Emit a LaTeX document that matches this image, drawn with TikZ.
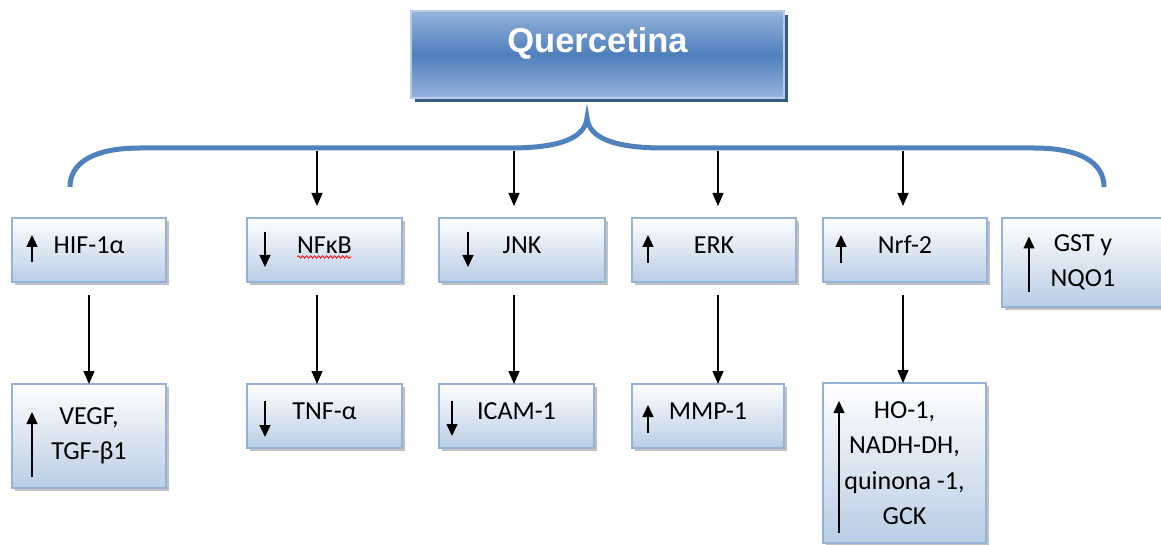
\documentclass[tikz,border=0pt]{standalone}
\usepackage{fontspec}
\setmainfont{Carlito}
\newfontfamily\titlefont{Liberation Sans}
\usepackage{tikz}
\usetikzlibrary{positioning, arrows.meta, shadows, decorations.pathmorphing}

\definecolor{braceblue}{HTML}{4F81BD}
\definecolor{boxline}{HTML}{95B3D7}
\definecolor{boxbottom}{HTML}{B9CDE5}
\definecolor{qlight}{HTML}{95B4DC}
\definecolor{qdark}{HTML}{4F7FBC}
\definecolor{qshadow}{HTML}{385A84}

\begin{document}
\begin{tikzpicture}[
    x=1pt, y=-1pt,
    box/.style={rectangle, draw=boxline, line width=1.3pt, top color=white, bottom color=boxbottom, minimum height=64pt, inner sep=0pt, outer sep=0pt, align=center, font=\fontsize{26}{35.5}\selectfont, drop shadow={shadow xshift=3pt, shadow yshift=-3pt, fill=black!40, opacity=.6}},
    oneline/.style={text height=18pt, text depth=11pt},
    qbox/.style={rectangle, draw=qlight!70!white, line width=1.3pt, top color=qlight, bottom color=qlight, middle color=qdark, minimum width=373pt, minimum height=87pt, outer sep=0pt, text=white, font=\titlefont\bfseries\fontsize{34.5}{40}\selectfont, text height=25pt, text depth=28pt, drop shadow={shadow xshift=4pt, shadow yshift=-4pt, fill=qshadow, opacity=1}},
    arrow/.style={-{Triangle[length=13pt,width=11pt]}, line width=1.3pt},
    smallarrow/.style={-{Triangle[length=12pt,width=11pt]}, line width=1.4pt},
    brace/.style={draw=braceblue, line width=5pt}
]
    \useasboundingbox (0,0) rectangle (1161,545);

    % Quercetina
    \node[qbox] (querc) at (597.5,54.5) {Quercetina};

    % Brace
    \draw[brace] (70,187) .. controls (70,162) and (95,148) .. (140,148) -- (510,148)
        .. controls (560,148) and (585,138) .. (587,118)
        .. controls (589,138) and (614,148) .. (664,148) -- (1034,148)
        .. controls (1079,148) and (1104,162) .. (1104,187);
    \coordinate (b1) at (317,151);
    \coordinate (b2) at (514,151);
    \coordinate (b3) at (718,151);
    \coordinate (b4) at (903,151);

    % First row
    \node[box, oneline, minimum width=154pt] (hif) at (89,250) {HIF-1α};
    \node[box, oneline, minimum width=155pt, right=81pt of hif] (nfkb) {NFκB};
    \node[box, oneline, minimum width=166pt, right=37pt of nfkb] (jnk) {JNK};
    \node[box, oneline, minimum width=164pt, right=27pt of jnk] (erk) {ERK};
    \node[box, oneline, minimum width=164pt, right=27pt of erk] (nrf) {Nrf-2};
    \node[box, minimum width=162pt, minimum height=89pt, right=15pt of nrf.north east, anchor=north west] (gst) {GST y\\NQO1};

    % Second row
    \node[box, minimum width=154pt, minimum height=104pt, below=102pt of hif] (vegf) {VEGF,\\TGF-β1};
    \node[box, oneline, minimum width=155pt, below=102pt of nfkb] (tnf) {TNF-α};
    \node[box, oneline, minimum width=155pt, below=102pt of jnk.south west, anchor=north west] (icam) {ICAM-1};
    \node[box, oneline, minimum width=152pt, below=102pt of erk.south west, anchor=north west] (mmp) {MMP-1};
    \node[box, minimum width=163pt, minimum height=160pt, below=101pt of nrf.south west, anchor=north west] (ho) {HO-1,\\NADH-DH,\\quinona -1,\\GCK};

    % Arrows
    \draw[arrow, shorten >=12pt] (b1) -- (b1 |- nfkb.north);
    \draw[arrow, shorten >=12pt] (b2) -- (b2 |- jnk.north);
    \draw[arrow, shorten >=12pt] (b3) -- (b3 |- erk.north);
    \draw[arrow, shorten >=12pt] (b4) -- (b4 |- nrf.north);
    \draw[arrow, shorten <=13pt] (hif) -- (vegf);
    \draw[arrow, shorten <=13pt] (b1 |- nfkb.south) -- (b1 |- tnf.north);
    \draw[arrow, shorten <=13pt] (b2 |- jnk.south) -- (b2 |- icam.north);
    \draw[arrow, shorten <=13pt] (b3 |- erk.south) -- (b3 |- mmp.north);
    \draw[arrow, shorten <=13pt] (b4 |- nrf.south) -- (b4 |- ho.north);

    % Up and down marks
    \draw[smallarrow] ([xshift=20pt,yshift=-12pt]hif.west) -- ([xshift=20pt,yshift=15pt]hif.west);
    \draw[smallarrow] ([xshift=18pt,yshift=18pt]nfkb.west) -- ([xshift=18pt,yshift=-17pt]nfkb.west);
    \draw[smallarrow] ([xshift=29pt,yshift=18pt]jnk.west) -- ([xshift=29pt,yshift=-17pt]jnk.west);
    \draw[smallarrow] ([xshift=16pt,yshift=-13pt]erk.west) -- ([xshift=16pt,yshift=15pt]erk.west);
    \draw[smallarrow] ([xshift=18pt,yshift=-13pt]nrf.west) -- ([xshift=18pt,yshift=15pt]nrf.west);
    \draw[smallarrow] ([xshift=27pt,yshift=-29pt]gst.west) -- ([xshift=27pt,yshift=26pt]gst.west);
    \draw[smallarrow] ([xshift=20pt,yshift=-41pt]vegf.west) -- ([xshift=20pt,yshift=24pt]vegf.west);
    \draw[smallarrow] ([xshift=18pt,yshift=15pt]tnf.west) -- ([xshift=18pt,yshift=-21pt]tnf.west);
    \draw[smallarrow] ([xshift=13pt,yshift=15pt]icam.west) -- ([xshift=13pt,yshift=-20pt]icam.west);
    \draw[smallarrow] ([xshift=16pt,yshift=-17pt]mmp.west) -- ([xshift=16pt,yshift=11pt]mmp.west);
    \draw[smallarrow] ([xshift=16pt,yshift=-70pt]ho.west) -- ([xshift=16pt,yshift=62pt]ho.west);

    % Spell-check underline
    \draw[red, line width=0.8pt, decorate, decoration={snake, amplitude=1.2pt, segment length=4pt}] ([xshift=-27pt,yshift=-7pt]nfkb.center) -- ([xshift=27pt,yshift=-7pt]nfkb.center);
\end{tikzpicture}
\end{document}
